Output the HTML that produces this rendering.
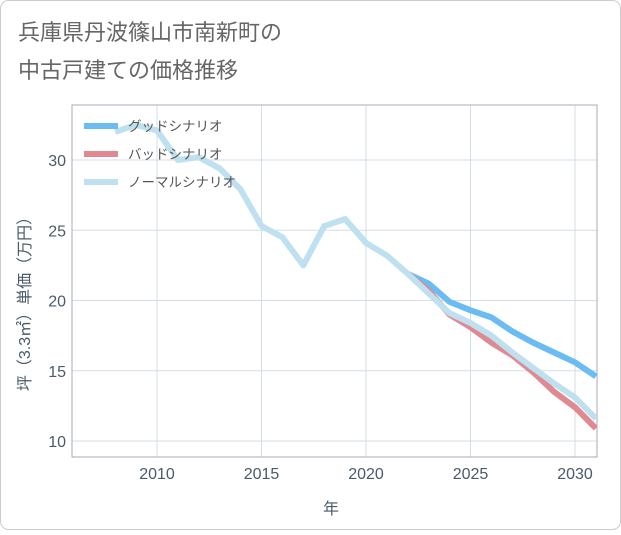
<!DOCTYPE html>
<html><head><meta charset="utf-8"><style>
body{margin:0;background:#fff;}
svg text{font-family:"Liberation Sans","Noto Sans CJK JP",sans-serif;}
</style></head><body>
<svg width="621" height="530">
<rect x="0.5" y="0.5" width="620" height="529" rx="8" fill="#fff" stroke="#ccc"/>
<text x="18" y="40" font-size="22" fill="#666">兵庫県丹波篠山市南新町の</text>
<text x="18" y="78" font-size="22" fill="#666">中古戸建ての価格推移</text>
<g id="grid"></g>
<rect x="72" y="105" width="525" height="352" fill="none" stroke="#aab"/>
<defs><clipPath id="cp"><rect x="72" y="105" width="525" height="352"/></clipPath></defs>
<g id="series" clip-path="url(#cp)"></g>
<g id="ticks"></g>
<text x="331" y="514" font-size="16" fill="#4a5a6a" text-anchor="middle">年</text>
<text transform="translate(30,300) rotate(-90)" font-size="16" fill="#4a5a6a" text-anchor="middle">坪（3.3㎡）単価（万円）</text>
<g>
<line x1="84" y1="126" x2="118" y2="126" stroke="#6bbcf2" stroke-width="6"/>
<text x="128" y="131" font-size="13.5" fill="#555">グッドシナリオ</text>
<line x1="84" y1="154" x2="118" y2="154" stroke="#df8a92" stroke-width="6"/>
<text x="128" y="159" font-size="13.5" fill="#555">バッドシナリオ</text>
<line x1="84" y1="182" x2="118" y2="182" stroke="#bfe0ee" stroke-width="6"/>
<text x="128" y="187" font-size="13.5" fill="#555">ノーマルシナリオ</text>
</g>
</svg>
<script>
const normalYears=[2008,2009,2010,2011,2012,2013,2014,2015,2016,2017,2018,2019,2020,2021,2022,2023,2024,2025,2026,2027,2028,2029,2030,2031];
const normalValues=[32.0,32.5,32.1,30.0,30.2,29.4,27.9,25.3,24.5,22.5,25.3,25.8,24.1,23.2,21.9,20.5,19.1,18.4,17.5,16.3,15.2,14.1,13.1,11.6];
const forecastYears=[2022,2023,2024,2025,2026,2027,2028,2029,2030,2031];
const goodValues=[21.9,21.2,19.9,19.3,18.8,17.8,17.0,16.3,15.6,14.6];
const badValues=[21.9,20.7,19.0,18.1,17.0,16.1,14.9,13.5,12.4,10.9];
const xTicks=[2010,2015,2020,2025,2030];
const yTicks=[10,15,20,25,30];
const NS="http://www.w3.org/2000/svg";
const xs=y=>157+(y-2010)*20.9;
const ys=v=>160+(30-v)*14.05;
const grid=document.getElementById('grid'),ticks=document.getElementById('ticks'),series=document.getElementById('series');
function mk(t,a){const e=document.createElementNS(NS,t);for(const k in a)e.setAttribute(k,a[k]);return e;}
xTicks.forEach(t=>{
 const l=mk('line',{x1:xs(t),x2:xs(t),y1:105,y2:457,stroke:'#d3dde6'});
 
 
 grid.appendChild(l);
 const tx=mk('text',{x:xs(t),y:479,'font-size':16,fill:'#4a5a6a','text-anchor':'middle'});
 tx.textContent=t;
 
 
 ticks.appendChild(tx);
});
yTicks.forEach(t=>{
 const l=mk('line',{x1:72,x2:597,y1:ys(t),y2:ys(t),stroke:'#d3dde6'});
 
 
 grid.appendChild(l);
 const tx=mk('text',{x:66,y:ys(t)+6,'font-size':16,fill:'#4a5a6a','text-anchor':'end'});
 tx.textContent=t;
 
 
 ticks.appendChild(tx);
});
function line(yrs,vals,color,name){
 const p=mk('polyline',{points:yrs.map((y,i)=>xs(y)+','+ys(vals[i])).join(' '),fill:'none',stroke:color,'stroke-width':6,'stroke-linejoin':'round'});
 
 
 series.appendChild(p);
}
line(forecastYears,goodValues,'#6bbcf2','good-scenario-line');
line(forecastYears,badValues,'#df8a92','bad-scenario-line');
line(normalYears,normalValues,'#bfe0ee','normal-scenario-line');
</script>
</body></html>
